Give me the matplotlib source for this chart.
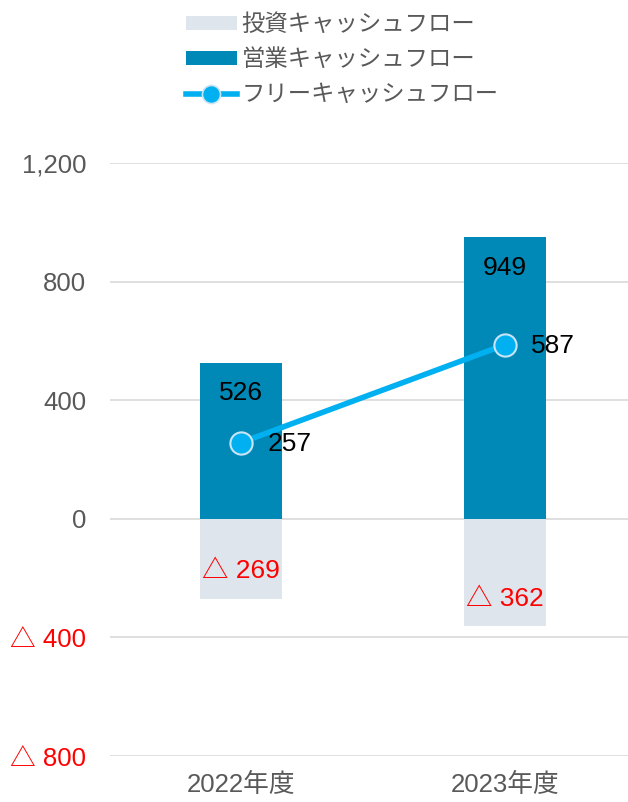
import matplotlib
matplotlib.use("Agg")
import matplotlib.pyplot as plt
from matplotlib.patches import Patch
from matplotlib.lines import Line2D

plt.rcParams['font.family'] = ['Liberation Sans', 'Noto Sans CJK JP', 'DejaVu Sans']

# Cash flow data (100 million yen)
years = ["2022年度", "2023年度"]
operating_cf = [526, 949]
investing_cf = [-269, -362]
free_cf = [257, 587]
y_ticks = [-800, -400, 0, 400, 800, 1200]

col_op = "#0089B6"
col_inv = "#DEE5EC"
col_free = "#00B0F0"
col_tick = "#595959"
col_neg = "#FF0000"


def fmt_value(v):
    if v < 0:
        return f"△ {abs(v):,}"
    return f"{v:,}"


fig = plt.figure(figsize=(6.28, 8.02), dpi=100)
ax = fig.add_axes([110 / 628, 46 / 802, 518 / 628, 593 / 802])

x = list(range(len(years)))
bar_w = 0.31

ax.bar(x, investing_cf, width=bar_w, color=col_inv, zorder=2)
ax.bar(x, operating_cf, width=bar_w, color=col_op, zorder=2)
ax.plot(x, free_cf, color=col_free, lw=4, marker='o', ms=16,
        mfc=col_free, mec="#C9E4F5", mew=1.5, zorder=4)

ax.set_xlim(-0.496, 1.466)
ax.set_ylim(-800, 1200)
ax.set_yticks(y_ticks)
ax.set_yticklabels([fmt_value(v) for v in y_ticks])
for lbl, v in zip(ax.get_yticklabels(), y_ticks):
    lbl.set_color(col_neg if v < 0 else col_tick)
    lbl.set_fontsize(18.5)
ax.tick_params(axis='y', length=0, pad=17)
ax.set_xticks(x)
ax.set_xticklabels(years, fontsize=18.5, color=col_tick)
ax.tick_params(axis='x', length=0, pad=12)

ax.yaxis.grid(True, color="#D9D9D9", lw=1.2, zorder=0)
ax.set_axisbelow(True)
for s in ax.spines.values():
    s.set_visible(False)

# Value labels
for xi, v in zip(x, operating_cf):
    ax.annotate(fmt_value(v), (xi, v), xytext=(0, -22), textcoords="offset points",
                ha="center", va="center", fontsize=19, color="black", zorder=5)
for xi, v in zip(x, investing_cf):
    ax.annotate(fmt_value(v), (xi, v), xytext=(0, 19.5), textcoords="offset points",
                ha="center", va="center", fontsize=19, color=col_neg, zorder=5)
for xi, v in zip(x, free_cf):
    ax.annotate(fmt_value(v), (xi, v), xytext=(19, -1), textcoords="offset points",
                ha="left", va="center", fontsize=19, color="black", zorder=5)

handles = [
    Patch(facecolor=col_inv, edgecolor='none'),
    Patch(facecolor=col_op, edgecolor='none'),
    Line2D([0], [0], color=col_free, lw=4, marker='o', ms=13,
           mfc=col_free, mec="#C9E4F5", mew=1.2),
]
labels = ["投資キャッシュフロー", "営業キャッシュフロー", "フリーキャッシュフロー"]
leg = fig.legend(handles, labels, loc="upper center", bbox_to_anchor=(0.545, 1.01),
                 frameon=False, fontsize=16.8, handlelength=2.2, handleheight=0.55,
                 handletextpad=0.2, labelspacing=0.52, labelcolor=col_tick)

fig.savefig("out.png", dpi=100)
